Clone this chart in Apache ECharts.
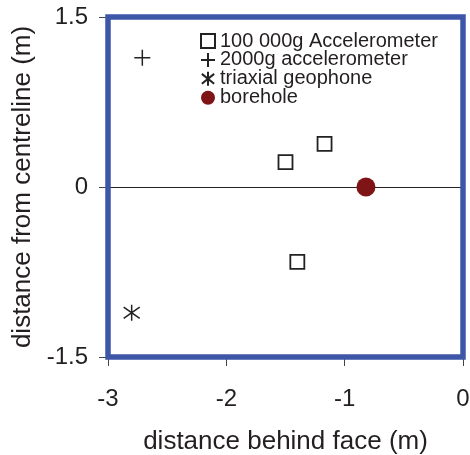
<!DOCTYPE html>
<html>
<head>
<meta charset="utf-8">
<script src="https://cdn.jsdelivr.net/npm/echarts@6/dist/echarts.min.js"></script>
<style>
html,body{margin:0;padding:0;background:#fff;}
#c{width:470px;height:455px;}
</style>
</head>
<body>
<div id="c"></div>
<script>
// Data
var seriesNames = ['100 000g Accelerometer', '2000g accelerometer', 'triaxial geophone', 'borehole'];
var accel100kX = [-1.50, -1.17, -1.40];
var accel100kY = [0.22, 0.38, -0.66];
var accel2kX = [-2.71];
var accel2kY = [1.14];
var geophoneX = [-2.80];
var geophoneY = [-1.11];
var boreholeX = [-0.82];
var boreholeY = [0];
var xTicks = [-3, -2, -1, 0];
var yTicks = [-1.5, 0, 1.5];

function pairs(xs, ys) { return xs.map(function (x, i) { return [x, ys[i]]; }); }

var FONT = "'Liberation Sans', Arial, sans-serif";
var TXT = '#231f20';
var chart = echarts.init(document.getElementById('c'), null, {renderer: 'canvas'});
chart.setOption({
  animation: false,
  backgroundColor: '#fff',
  grid: {
    left: 108, right: 7, top: 17, bottom: 98,
    containLabel: false, outerBoundsMode: 'none',
    show: true, borderColor: '#3e56a7', borderWidth: 5.5, backgroundColor: 'transparent', z: 10
  },
  legend: {
    orient: 'vertical',
    left: 195, top: 26,
    itemWidth: 14, itemHeight: 14, itemGap: -1.1,
    textStyle: {fontFamily: FONT, fontSize: 20, color: TXT},
    data: seriesNames
  },
  xAxis: {
    type: 'value', min: xTicks[0], max: xTicks[xTicks.length - 1], interval: 1,
    name: 'distance behind face (m)', nameLocation: 'middle', nameGap: 72,
    nameTextStyle: {fontFamily: FONT, fontSize: 26, color: TXT},
    axisLine: {show: false, onZero: false},
    axisTick: {show: true, length: 9, lineStyle: {color: '#444', width: 1}},
    axisLabel: {fontFamily: FONT, fontSize: 24, color: TXT, margin: 30},
    splitLine: {show: false}
  },
  yAxis: {
    type: 'value', min: yTicks[0], max: yTicks[yTicks.length - 1], interval: 1.5,
    name: 'distance from centreline (m)', nameLocation: 'middle', nameGap: 72,
    nameTextStyle: {fontFamily: FONT, fontSize: 26, color: TXT},
    axisLine: {show: false, onZero: false},
    axisTick: {show: true, length: 9, lineStyle: {color: '#444', width: 1}},
    axisLabel: {fontFamily: FONT, fontSize: 24, color: TXT, margin: 20},
    splitLine: {show: false}
  },
  series: [
    {
      name: seriesNames[0], type: 'scatter', symbol: 'rect', symbolSize: 14,
      itemStyle: {color: '#fff', borderColor: '#222', borderWidth: 1.8, opacity: 1},
      data: pairs(accel100kX, accel100kY), z: 5,
      markLine: {
        silent: true, symbol: 'none', label: {show: false},
        lineStyle: {color: '#222', width: 1.2, type: 'solid'},
        data: [{yAxis: 0}], z: 1
      }
    },
    {
      name: seriesNames[1], type: 'scatter', symbol: 'path://M0,5L10,5M5,0L5,10', symbolSize: 16,
      itemStyle: {color: 'rgba(0,0,0,0)', borderColor: '#222', borderWidth: 1.5, opacity: 1},
      data: pairs(accel2kX, accel2kY), z: 5
    },
    {
      name: seriesNames[2], type: 'scatter', symbol: 'path://M5,0L5,10M0.6,1.5L9.4,8.5M0.6,8.5L9.4,1.5', symbolSize: 16,
      itemStyle: {color: 'rgba(0,0,0,0)', borderColor: '#222', borderWidth: 1.5, opacity: 1},
      data: pairs(geophoneX, geophoneY), z: 5
    },
    {
      name: seriesNames[3], type: 'scatter', symbol: 'circle', symbolSize: 19,
      itemStyle: {color: '#7f1416', opacity: 1},
      data: pairs(boreholeX, boreholeY), z: 6
    }
  ]
});
</script>
</body>
</html>
